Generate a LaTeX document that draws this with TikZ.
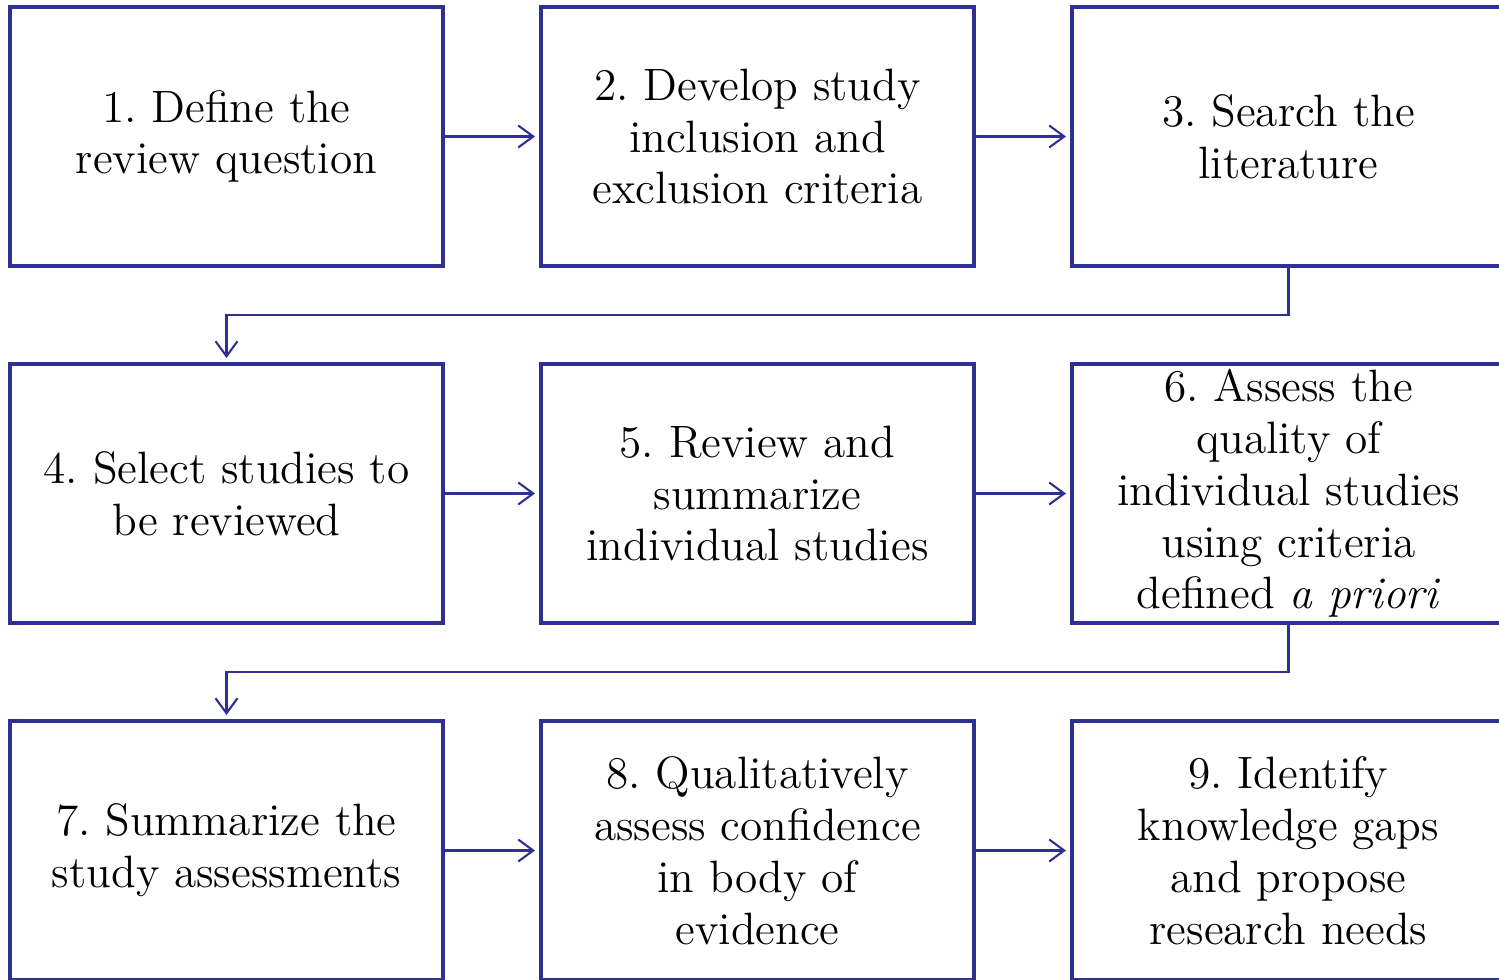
\documentclass[tikz,border=0pt]{standalone}
\usetikzlibrary{positioning,arrows.meta}
\definecolor{stepblue}{RGB}{46,49,146}
\frenchspacing
\begin{document}
\begin{tikzpicture}[
	node distance=0.98cm,
	stage/.style={draw=stepblue, line width=1.15pt, outer sep=0pt, inner sep=0pt,
		minimum width=4.33cm, minimum height=2.59cm, align=center,
		font=\fontsize{12.9}{14.75}\selectfont},
	link/.style={stepblue, line width=0.6pt, shorten >=0.06cm,
		-{Straight Barb[length=0.15cm, width=0.22cm]}}]
	\useasboundingbox (0,0) rectangle (14.99,-9.79);
	\clip (0,0) rectangle (14.99,-9.79);
	\node [stage] (s1) at (2.265,-1.365) {1. Define the\\review question};
	\node [stage, right=of s1] (s2) {2. Develop study\\inclusion and\\exclusion criteria};
	\node [stage, right=of s2] (s3) {3. Search the\\literature};
	\node [stage, below=of s1] (s4) {4. Select studies to\\be reviewed};
	\node [stage, right=of s4] (s5) {5. Review and\\summarize\\individual studies};
	\node [stage, right=of s5] (s6) {6. Assess the\\quality of\\individual studies\\using criteria\\defined \textit{a priori}};
	\node [stage, below=of s4] (s7) {7. Summarize the\\study assessments};
	\node [stage, right=of s7] (s8) {8. Qualitatively\\assess confidence\\in body of\\evidence};
	\node [stage, right=of s8] (s9) {9. Identify\\knowledge gaps\\and propose\\research needs};
	\draw [link] (s1) -- (s2);
	\draw [link] (s2) -- (s3);
	\draw [link] (s4) -- (s5);
	\draw [link] (s5) -- (s6);
	\draw [link] (s7) -- (s8);
	\draw [link] (s8) -- (s9);
	\draw [link] (s3.south) -- ++(0,-0.49) -| (s4.north);
	\draw [link] (s6.south) -- ++(0,-0.49) -| (s7.north);
\end{tikzpicture}
\end{document}
